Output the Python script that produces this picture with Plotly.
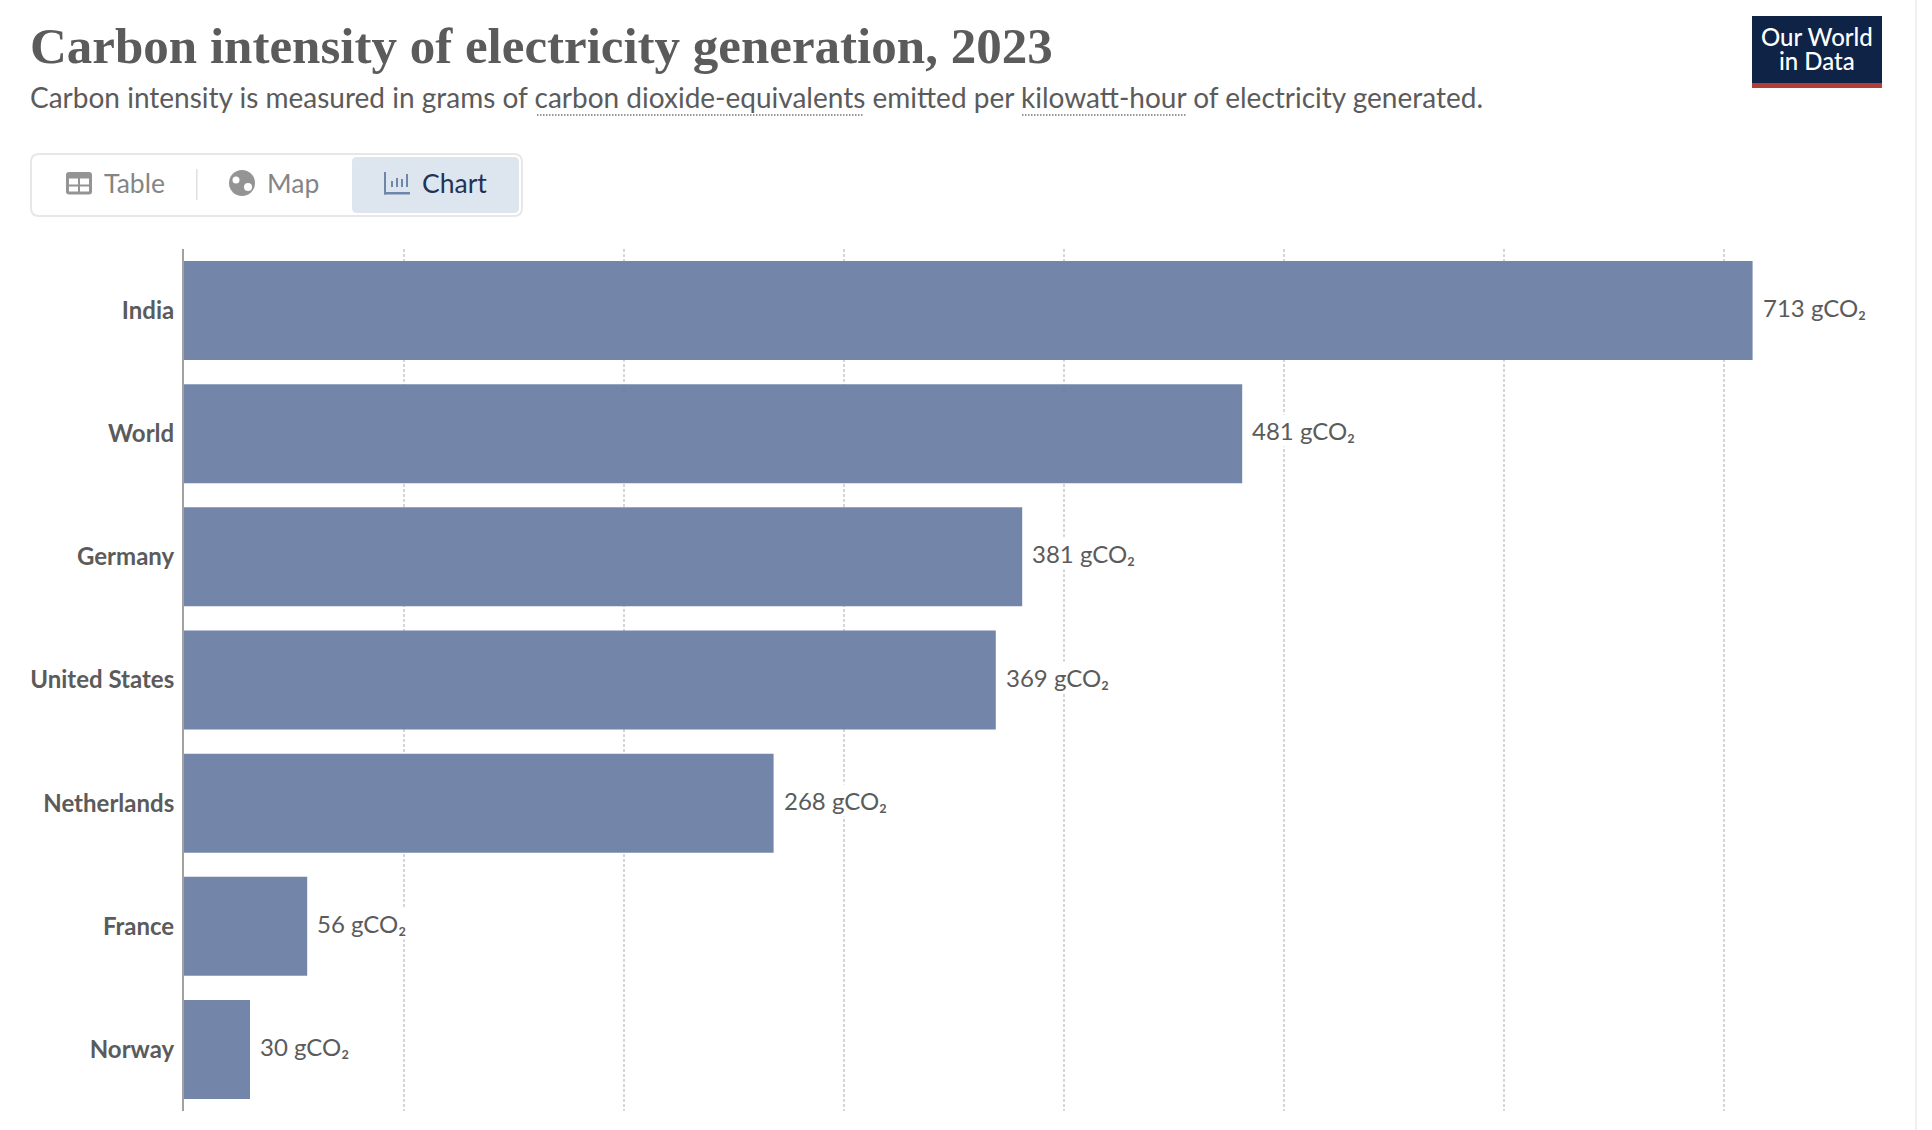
import plotly.graph_objects as go

countries = ["India", "World", "Germany", "United States", "Netherlands", "France", "Norway"]
intensity = [713, 481, 381, 369, 268, 56, 30]
unit = "gCO₂"

W = 1932
H = 1130
GREY = "#5b5b5b"
FONT = "Lato"


def px(x):
    return x / W


def py(y):
    return 1 - y / H


def rect(x0, y0, x1, y1, fill):
    return dict(type="rect", xref="paper", yref="paper", layer="above",
                x0=px(x0), x1=px(x1), y0=py(y0), y1=py(y1), fillcolor=fill,
                line=dict(width=0))


def circle(x, y, r, fill):
    return dict(type="circle", xref="paper", yref="paper", layer="above",
                x0=px(x - r), x1=px(x + r), y0=py(y + r), y1=py(y - r), fillcolor=fill,
                line=dict(width=0))


def round_rect(x0, y0, x1, y1, r, fill, line, width):
    # rounded corners need an svg path, in paper fractions
    def P(x, y):
        return f"{px(x)},{py(y)}"
    d = (f"M {P(x0 + r, y0)} L {P(x1 - r, y0)} Q {P(x1, y0)} {P(x1, y0 + r)} "
         f"L {P(x1, y1 - r)} Q {P(x1, y1)} {P(x1 - r, y1)} "
         f"L {P(x0 + r, y1)} Q {P(x0, y1)} {P(x0, y1 - r)} "
         f"L {P(x0, y0 + r)} Q {P(x0, y0)} {P(x0 + r, y0)} Z")
    return dict(type="path", xref="paper", yref="paper", layer="above", path=d,
                fillcolor=fill, line=dict(color=line, width=width))


def dotted(x0, x1, y):
    return dict(type="line", xref="paper", yref="paper", x0=px(x0), x1=px(x1), y0=py(y), y1=py(y),
                line=dict(color="#777777", width=1.5, dash="1.5px,1.5px"))


def label(x, y, text, size, color, anchor="left", family=FONT, weight=400, **kw):
    return dict(xref="paper", yref="paper", x=px(x), y=py(y), text=text, showarrow=False,
                xanchor=anchor, yanchor="middle", align=anchor,
                font=dict(family=family, size=size, color=color, weight=weight), **kw)


fig = go.Figure(go.Bar(
    x=intensity,
    y=countries,
    orientation="h",
    marker=dict(color="#6d81a7", opacity=0.96, line=dict(width=0)),
    hoverinfo="skip",
))

annotations = []
# value labels next to the bars, white box breaks the gridline like the original halo
for name, val in zip(countries, intensity):
    annotations.append(dict(x=val, y=name, xref="x", yref="y", text=f"{val} {unit}",
                            showarrow=False, xanchor="left", yanchor="middle",
                            xshift=8, yshift=3, bgcolor="white",
                            font=dict(family=FONT, size=24, color=GREY)))

# header
annotations += [
    label(28, 46, "Carbon intensity of electricity generation, 2023", 51, GREY,
          family="Liberation Serif", weight=700),
    label(28, 97, "Carbon intensity is measured in grams of carbon dioxide-equivalents "
                  "emitted per kilowatt-hour of electricity generated.", 28, GREY),
    label(1817, 36, "Our World", 24, "white", anchor="center", weight=500, height=24),
    label(1817, 60, "in Data", 24, "white", anchor="center", weight=500, height=24),
    label(102, 183, "Table", 26.5, "#858585"),
    label(265, 183, "Map", 26.5, "#858585"),
    label(420, 183, "Chart", 26.5, "#1f3358"),
]

chart_blue = "#6f86a8"
shapes = [
    dict(type="line", xref="paper", yref="paper", x0=px(1916), x1=px(1916), y0=0, y1=1,
         line=dict(color="#f0f0f0", width=2)),
    # dotted underlines of the glossary words
    dotted(537, 863, 115),
    dotted(1022, 1186, 115),
    # logo
    rect(1752, 16, 1882, 88, "#0f2347"),
    rect(1752, 83, 1882, 88, "#b13f37"),
    # tab bar
    round_rect(31, 154, 522, 216, 8, "white", "#e7e7e7", 2),
    round_rect(352, 157, 519, 213, 5, "#dde5ef", "#dde5ef", 0),
    rect(196, 169, 197.5, 200, "#e0e0e0"),
    # table icon
    round_rect(66, 172, 92, 194.5, 3, "#949494", "#949494", 0),
    rect(69, 178.5, 78, 184.5, "white"), rect(80, 178.5, 89, 184.5, "white"),
    rect(69, 186.5, 78, 191.5, "white"), rect(80, 186.5, 89, 191.5, "white"),
    # globe icon
    circle(242, 183, 13, "#949494"),
    circle(236, 180, 3.5, "white"),
    circle(248, 187, 4, "white"),
    # chart icon
    rect(384, 172, 386, 194.5, chart_blue), rect(384, 192, 410, 194.5, chart_blue),
    rect(391, 181, 393, 187, chart_blue), rect(396, 178, 398, 187, chart_blue),
    rect(401, 179, 403, 187, chart_blue), rect(406, 174, 408, 187, chart_blue),
]

fig.update_layout(
    width=W,
    height=H,
    margin=dict(l=0, r=0, t=0, b=0),
    paper_bgcolor="white",
    plot_bgcolor="white",
    showlegend=False,
    bargap=0.196,
    annotations=annotations,
    shapes=shapes,
)
fig.update_xaxes(
    domain=[px(184), px(1900)],
    range=[0, 780],
    dtick=100,
    showticklabels=False,
    ticks="",
    zeroline=False,
    showgrid=True,
    gridcolor="#d6d6d6",
    gridwidth=2,
    griddash="3px,2px",
)
fig.update_yaxes(
    domain=[py(1111), py(249)],
    range=[6.5, -0.5],
    showgrid=False,
    zeroline=False,
    showline=True,
    linecolor="#a1a1a1",
    linewidth=2,
    ticks="",
    ticklabelstandoff=3,
    tickfont=dict(family=FONT, size=24, color=GREY, weight=700),
)

fig.write_html("out.html", config=dict(displayModeBar=False),
               post_script="document.body.style.margin='0';")
